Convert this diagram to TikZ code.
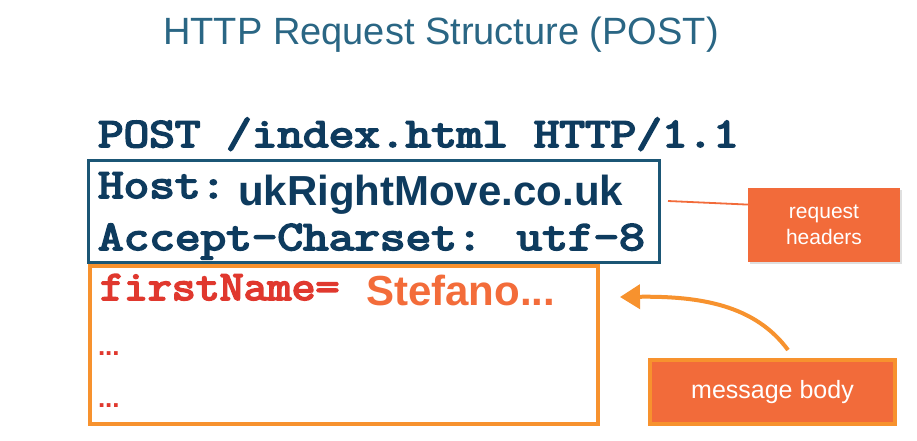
\documentclass[tikz,border=0pt]{standalone}
\usepackage{fontspec}
\setmainfont{Liberation Sans}
\newfontfamily\codefont[FakeBold=4]{Latin Modern Mono}
\usetikzlibrary{arrows.meta,shadows}
\definecolor{titlec}{HTML}{2A6684}
\definecolor{codeblue}{HTML}{0E3B5E}
\definecolor{boxblue}{HTML}{1B5675}
\definecolor{codered}{HTML}{E0382E}
\definecolor{stef}{HTML}{F36C3A}
\definecolor{orangeline}{HTML}{F7922E}
\definecolor{labelfill}{HTML}{F26B3A}
\newcommand{\codetxt}[2][1.185]{\scalebox{#1}[1]{\fontsize{42}{42}\codefont #2}}
\tikzset{
  txt/.style={anchor=base west, inner sep=0pt, outer sep=0pt},
  labelbox/.style={fill=labelfill, text=white, align=center, inner sep=0pt, font=\fontsize{21}{26}\selectfont}
}
\begin{document}
\begin{tikzpicture}[x=1pt,y=-1pt]
\useasboundingbox (0,0) rectangle (917,440);
\fill[white] (0,0) rectangle (917,440);
\node[inner sep=0pt, text=titlec, font=\fontsize{38}{38}\selectfont] (title) at (441,35) {HTTP Request Structure (POST)};
\node[txt, text=codeblue] (l1) at (98,147) {\codetxt{POST /index.html HTTP/1.1}};
\node[draw=boxblue, line width=3pt, minimum width=571pt, minimum height=102pt, inner sep=0pt] (hdrbox) at (373.5,211) {};
\node[txt, text=codeblue] (host) at (98,198) {\codetxt{Host:}};
\node[txt, text=codeblue, font=\fontsize{42}{42}\selectfont\bfseries] (hostv) at (238,205) {ukRightMove.co.uk};
\node[txt, text=codeblue] (acc) at (98,250) {\codetxt{Accept-Charset:  utf-8}};
\node[draw=orangeline, line width=4pt, fill=white, minimum width=508pt, minimum height=158pt, inner sep=0pt] (bodybox) at (344,345) {};
\node[txt, text=codered] (fn) at (100,300) {\codetxt[1.107]{firstName=}};
\node[txt, text=stef, font=\fontsize{42}{42}\selectfont\bfseries] (stefano) at (366,305) {Stefano...};
\node[txt, text=codered, font=\fontsize{26}{26}\selectfont\bfseries] (d1) at (98,355) {...};
\node[txt, text=codered, font=\fontsize{26}{26}\selectfont\bfseries] (d2) at (98,407) {...};
\node[labelbox, drop shadow={shadow xshift=2pt, shadow yshift=-2pt, opacity=0.25}, minimum width=152pt, minimum height=74pt] (reqhdr) at (824,225) {request\\headers};
\node[labelbox, draw=orangeline, line width=4pt, minimum width=245pt, minimum height=64pt, font=\fontsize{25}{26}\selectfont] (msgbody) at (772.5,392) {message body};
\coordinate (hl) at (668,201);
\draw[labelfill, line width=1.8pt] (hl) -- (reqhdr.165);
\coordinate (as) at (788,350);
\coordinate (ae) at (620,297);
\draw[orangeline, line width=4pt, -{Triangle[length=20pt,width=24pt]}] (as) .. controls (755,305) and (700,296) .. (ae);
\end{tikzpicture}
\end{document}
